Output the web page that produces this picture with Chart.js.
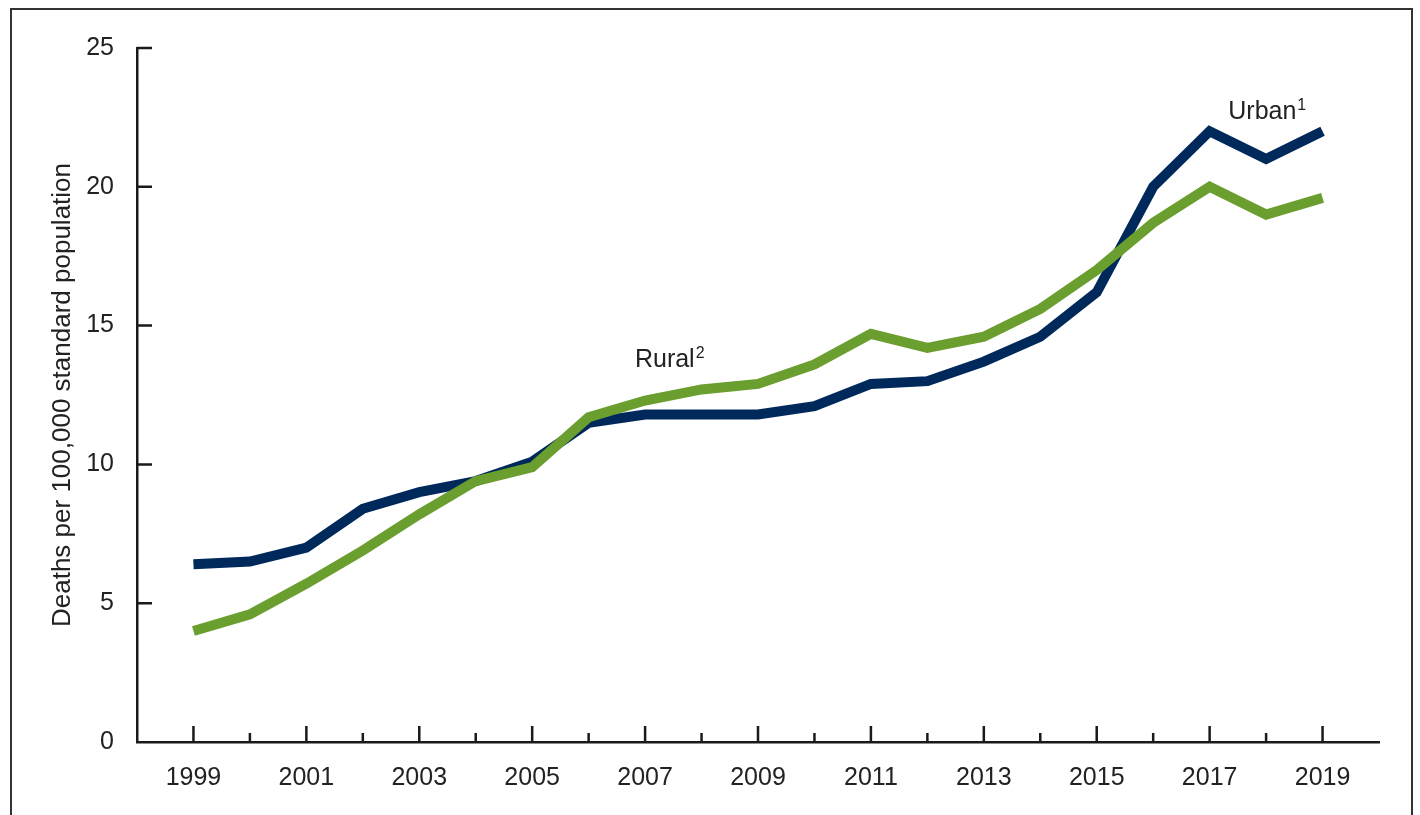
<!DOCTYPE html>
<html>
<head>
<meta charset="utf-8">
<script src="https://cdn.jsdelivr.net/npm/chart.js@4/dist/chart.umd.min.js"></script>
<style>
    html, body { margin: 0; padding: 0; background: #fff; }
    #wrap { position: relative; width: 1420px; height: 815px; overflow: hidden; }
    #frame { position: absolute; left: 10px; top: 8px; width: 1403px; height: 900px; border: 2px solid #333; box-sizing: border-box; }
    canvas { position: absolute; left: 0; top: 0; }
</style>
</head>
<body>
<div id="wrap">
    <div id="frame"></div>
    <canvas id="chart" width="1420" height="815"></canvas>
</div>
<script>
// Data
const years = [1999, 2000, 2001, 2002, 2003, 2004, 2005, 2006, 2007, 2008, 2009,
               2010, 2011, 2012, 2013, 2014, 2015, 2016, 2017, 2018, 2019];
const urbanRates = [6.4, 6.5, 7.0, 8.4, 9.0, 9.4, 10.1, 11.5, 11.8, 11.8, 11.8,
                    12.1, 12.9, 13.0, 13.7, 14.6, 16.2, 20.0, 22.0, 21.0, 22.0];
const ruralRates = [4.0, 4.6, 5.7, 6.9, 8.2, 9.4, 9.9, 11.7, 12.3, 12.7, 12.9,
                    13.6, 14.7, 14.2, 14.6, 15.6, 17.0, 18.7, 20.0, 19.0, 19.6];
const yTicks = [0, 5, 10, 15, 20, 25];
const seriesLabels = [
    { text: 'Urban', sup: '1', x: 2017.33, y: 22.45 },
    { text: 'Rural', sup: '2', x: 2006.82, y: 13.5 }
];

const navy = '#00295b';
const green = '#6a9e2f';
const axisColor = '#1a1a1a';
const fontFamily = '"Liberation Sans", Arial, Helvetica, sans-serif';

function toPoints(values) {
    return years.map((yr, i) => ({ x: yr, y: values[i] }));
}

// Inward tick marks (major on odd years, minor on even) and the line labels
const decorPlugin = {
    id: 'decor',
    afterDraw(chart) {
        const ctx = chart.ctx;
        const xs = chart.scales.x;
        const ys = chart.scales.y;
        const area = chart.chartArea;
        ctx.save();
        ctx.strokeStyle = axisColor;
        ctx.lineWidth = 2.5;
        ctx.beginPath();
        years.forEach(yr => {
            const px = xs.getPixelForValue(yr);
            const len = (yr % 2 === 1) ? 16 : 9;
            ctx.moveTo(px, area.bottom);
            ctx.lineTo(px, area.bottom - len);
        });
        yTicks.forEach(v => {
            if (v === 0) return;
            const py = ys.getPixelForValue(v);
            ctx.moveTo(area.left, py);
            ctx.lineTo(area.left + 15, py);
        });
        ctx.stroke();

        ctx.fillStyle = '#222';
        ctx.textBaseline = 'alphabetic';
        ctx.textAlign = 'left';
        seriesLabels.forEach(l => {
            const px = xs.getPixelForValue(l.x);
            const py = ys.getPixelForValue(l.y);
            ctx.font = '25px ' + fontFamily;
            ctx.fillText(l.text, px, py);
            const w = ctx.measureText(l.text).width;
            ctx.font = '16px ' + fontFamily;
            ctx.fillText(l.sup, px + w + 1, py - 9);
        });
        ctx.restore();
    }
};

new Chart(document.getElementById('chart'), {
    type: 'line',
    data: {
        datasets: [
            {
                label: 'Urban',
                data: toPoints(urbanRates),
                borderColor: navy,
                borderWidth: 10,
                pointRadius: 0,
                tension: 0,
                order: 1
            },
            {
                label: 'Rural',
                data: toPoints(ruralRates),
                borderColor: green,
                borderWidth: 10,
                pointRadius: 0,
                tension: 0,
                order: 0
            }
        ]
    },
    options: {
        responsive: false,
        animation: false,
        layout: { padding: { top: 48, right: 41, left: 0, bottom: 0 } },
        plugins: {
            legend: { display: false },
            tooltip: { enabled: false }
        },
        scales: {
            x: {
                type: 'linear',
                min: 1998,
                max: 2020,
                afterFit(scale) { scale.height = 73; },
                afterBuildTicks(scale) {
                    scale.ticks = years.map(v => ({ value: v }));
                },
                grid: { display: false, drawTicks: false },
                border: { display: true, color: axisColor, width: 2.5 },
                ticks: {
                    autoSkip: false,
                    maxRotation: 0,
                    padding: 21,
                    color: '#222',
                    font: { family: fontFamily, size: 25 },
                    callback: v => (v % 2 === 1 ? String(v) : '')
                }
            },
            y: {
                min: 0,
                max: 25,
                afterFit(scale) { scale.width = 137; },
                afterBuildTicks(scale) {
                    scale.ticks = yTicks.map(v => ({ value: v }));
                },
                grid: { display: false, drawTicks: false },
                border: { display: true, color: axisColor, width: 2.5 },
                ticks: {
                    padding: 23,
                    color: '#222',
                    font: { family: fontFamily, size: 25 },
                    callback: v => String(v)
                },
                title: {
                    display: true,
                    text: 'Deaths per 100,000 standard population',
                    color: '#222',
                    font: { family: fontFamily, size: 26 },
                    padding: { top: 47, bottom: 0 }
                }
            }
        }
    },
    plugins: [decorPlugin]
});
</script>
</body>
</html>
